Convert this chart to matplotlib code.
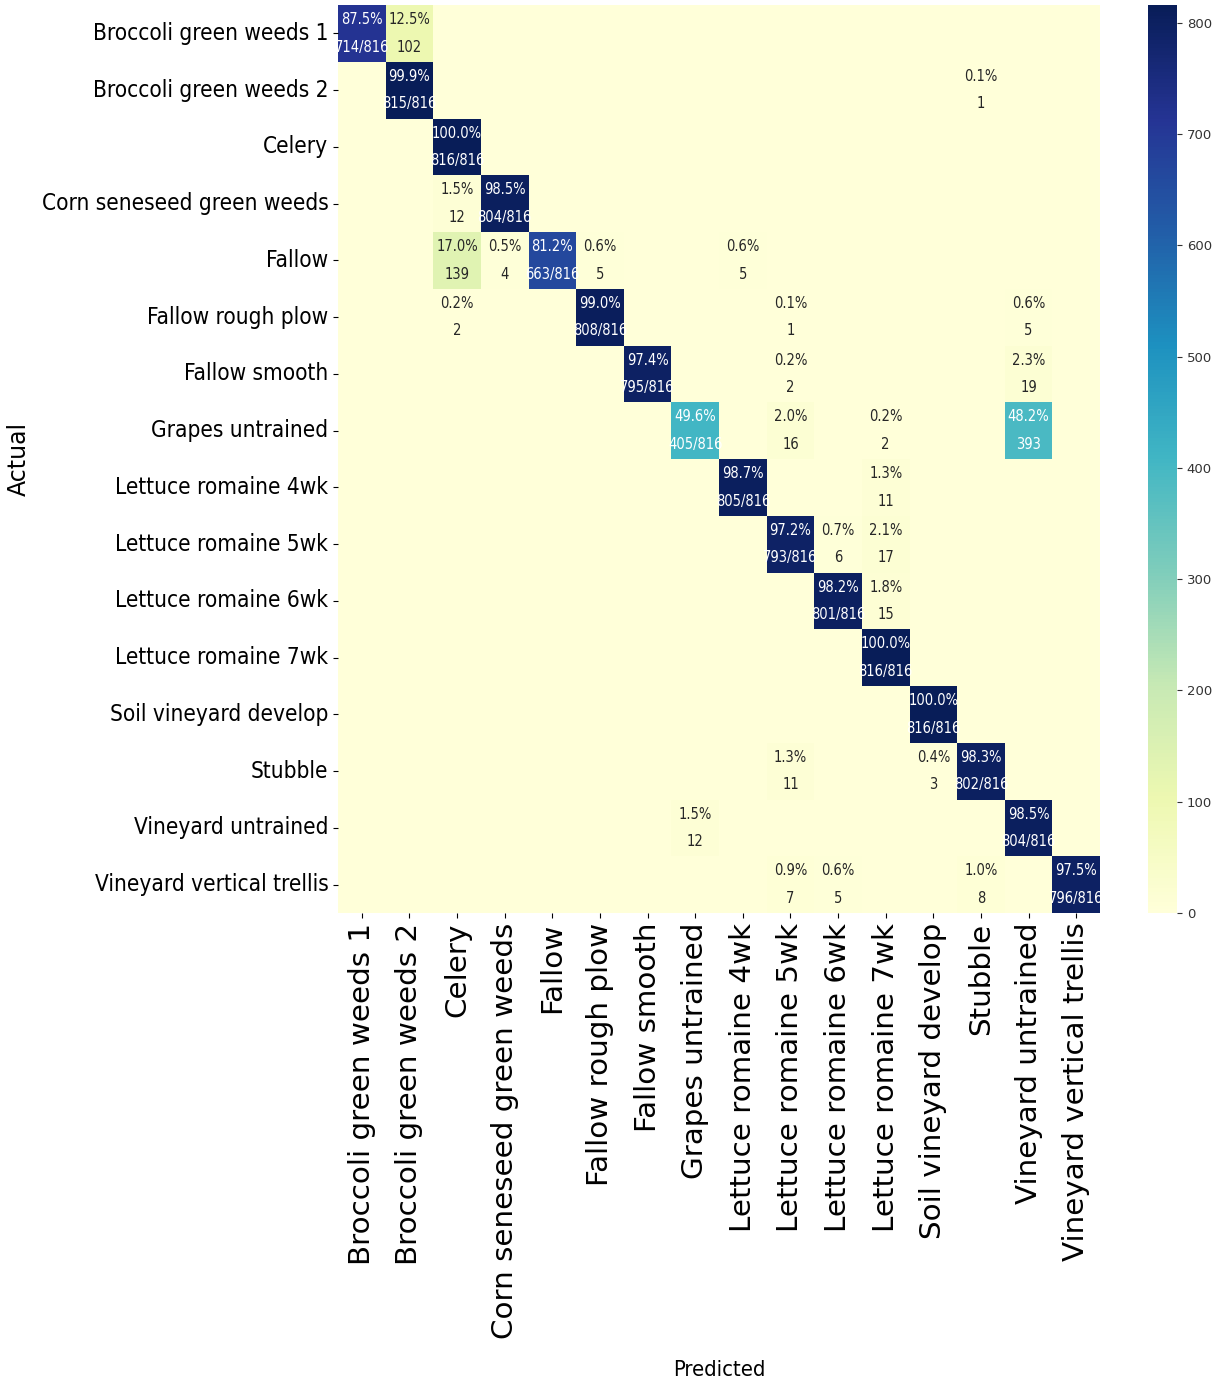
import numpy as np
import pandas as pd
import matplotlib
matplotlib.use("Agg")
import matplotlib.pyplot as plt
import seaborn as sns
from matplotlib import font_manager as fm

classes = ["Broccoli green weeds 1", "Broccoli green weeds 2", "Celery",
           "Corn seneseed green weeds", "Fallow", "Fallow rough plow",
           "Fallow smooth", "Grapes untrained", "Lettuce romaine 4wk",
           "Lettuce romaine 5wk", "Lettuce romaine 6wk", "Lettuce romaine 7wk",
           "Soil vineyard develop", "Stubble", "Vineyard untrained",
           "Vineyard vertical trellis"]

# rows = actual, columns = predicted
counts = [
    [714, 102,   0,   0,   0,   0,   0,   0,   0,   0,   0,   0,   0,   0,   0,   0],
    [  0, 815,   0,   0,   0,   0,   0,   0,   0,   0,   0,   0,   0,   1,   0,   0],
    [  0,   0, 816,   0,   0,   0,   0,   0,   0,   0,   0,   0,   0,   0,   0,   0],
    [  0,   0,  12, 804,   0,   0,   0,   0,   0,   0,   0,   0,   0,   0,   0,   0],
    [  0,   0, 139,   4, 663,   5,   0,   0,   5,   0,   0,   0,   0,   0,   0,   0],
    [  0,   0,   2,   0,   0, 808,   0,   0,   0,   1,   0,   0,   0,   0,   5,   0],
    [  0,   0,   0,   0,   0,   0, 795,   0,   0,   2,   0,   0,   0,   0,  19,   0],
    [  0,   0,   0,   0,   0,   0,   0, 405,   0,  16,   0,   2,   0,   0, 393,   0],
    [  0,   0,   0,   0,   0,   0,   0,   0, 805,   0,   0,  11,   0,   0,   0,   0],
    [  0,   0,   0,   0,   0,   0,   0,   0,   0, 793,   6,  17,   0,   0,   0,   0],
    [  0,   0,   0,   0,   0,   0,   0,   0,   0,   0, 801,  15,   0,   0,   0,   0],
    [  0,   0,   0,   0,   0,   0,   0,   0,   0,   0,   0, 816,   0,   0,   0,   0],
    [  0,   0,   0,   0,   0,   0,   0,   0,   0,   0,   0,   0, 816,   0,   0,   0],
    [  0,   0,   0,   0,   0,   0,   0,   0,   0,  11,   0,   0,   3, 802,   0,   0],
    [  0,   0,   0,   0,   0,   0,   0,  12,   0,   0,   0,   0,   0,   0, 804,   0],
    [  0,   0,   0,   0,   0,   0,   0,   0,   0,   7,   5,   0,   0,   8,   0, 796],
]

cm = np.array(counts)
row_sums = cm.sum(axis=1)
annot = np.empty_like(cm, dtype=object)
for i in range(cm.shape[0]):
    for j in range(cm.shape[1]):
        c = cm[i, j]
        p = c / row_sums[i] * 100
        if i == j:
            annot[i, j] = "%.1f%%\n%d/%d" % (p, c, row_sums[i])
        elif c == 0:
            annot[i, j] = ""
        else:
            annot[i, j] = "%.1f%%\n%d" % (p, c)

df = pd.DataFrame(cm, index=classes, columns=classes)
df.index.name = "Actual"
df.columns.name = "Predicted"

plt.rcParams["font.family"] = ["DejaVu Sans"]

W, H = 1221, 1387
fig = plt.figure(figsize=(W / 100, H / 100), dpi=100)
renderer = fig.canvas.get_renderer()

# the reference looks vertically stretched, so use a condensed face if there is one
has_cond = any(f.name == "DejaVu Sans" and f.stretch == "condensed"
               for f in fm.fontManager.ttflist)
narrow = "condensed" if has_cond else "normal"


def fit_size(text, target_px, stretch="normal"):
    t = fig.text(0, 0, text, fontsize=10, fontstretch=stretch)
    w = t.get_window_extent(renderer=renderer).width
    t.remove()
    return 10 * target_px / w


ylab_size = fit_size("Corn seneseed green weeds", 288, narrow)
xlab_size = fit_size("Corn seneseed green weeds", 415)
ann_size = fit_size("87.5%", 42, narrow)
ann_px = ann_size * 100 / 72
ann_ls = (26 / ann_px - 0.24) / 0.76

ax = fig.add_axes([338 / W, 1 - 913 / H, 762 / W, 908 / H])
cax = fig.add_axes([1148 / W, 1 - 913 / H, 29 / W, 908 / H])

sns.heatmap(df, annot=annot, fmt="", cmap="YlGnBu", ax=ax, cbar_ax=cax,
            annot_kws={"size": ann_size, "linespacing": ann_ls,
                       "fontstretch": narrow})

ax.set_yticklabels(classes, rotation=0, fontsize=ylab_size, fontstretch=narrow)
ax.set_xticklabels(classes, rotation=90, fontsize=xlab_size)
ax.set_xlabel("Predicted", fontsize=fit_size("Predicted", 93, narrow),
              fontstretch=narrow)
ax.set_ylabel("Actual", fontsize=17)
ax.xaxis.set_label_coords(0.5, -0.492)
ax.yaxis.set_label_coords(-0.403, 0.5)

cax.set_yticks(range(0, 801, 100))
cax.tick_params(labelsize=9.5, colors="#333333")

fig.savefig("out.png", dpi=100)
